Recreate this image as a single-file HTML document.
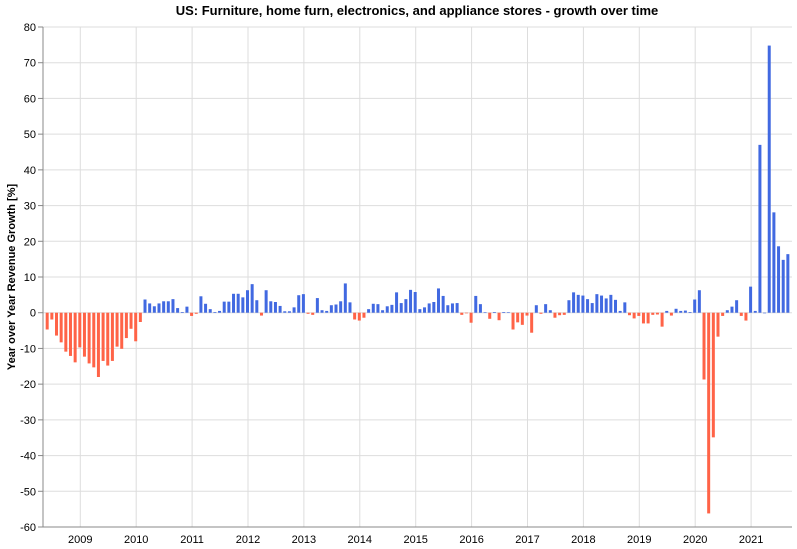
<!DOCTYPE html>
<html><head><meta charset="utf-8">
<style>
body{margin:0;background:#fff;}
svg{display:block;font-family:"Liberation Sans",sans-serif;}
</style></head>
<body>
<svg id="chart" width="797" height="549">
<text x="417" y="15" text-anchor="middle" font-size="13" font-weight="bold" fill="#000">US: Furniture, home furn, electronics, and appliance stores - growth over time</text>
<text transform="translate(15,277) rotate(-90)" text-anchor="middle" font-size="11" font-weight="bold" fill="#000">Year over Year Revenue Growth [%]</text>
<g id="grid"></g><g id="bars"></g><g id="axes"></g>
</svg>
<script>
const startYear = 2008, startMonth = 5; // June 2008
const v2008 = [-4.7,-1.9,-6.4,-8.3,-10.9,-12.1,-13.9];
const v2009 = [-9.7,-12.3,-14.2,-15.3,-18,-13.5,-14.8,-13.5,-9.5,-10.1,-7.1,-4.5];
const v2010 = [-8,-2.6,3.7,2.6,1.8,2.6,3.2,3.2,3.8,1.3,0.2,1.7];
const v2011 = [-0.9,-0.3,4.6,2.5,1.0,0.2,0.5,3.1,3.1,5.3,5.3,4.3];
const v2012 = [6.3,8.0,3.5,-0.8,6.3,3.2,3.0,1.9,0.4,0.4,1.5,4.9];
const v2013 = [5.2,-0.3,-0.6,4.1,0.7,0.5,2.1,2.3,3.2,8.2,2.9,-1.9];
const v2014 = [-2.2,-1.4,1.0,2.5,2.4,0.7,1.8,2.2,5.7,2.7,3.8,6.4];
const v2015 = [5.8,1.0,1.5,2.6,3.0,6.8,4.7,2.1,2.6,2.7,-0.6,-0.1];
const v2016 = [-2.8,4.7,2.4,0.1,-1.7,0.2,-2.1,0.2,0.1,-4.7,-2.7,-3.4];
const v2017 = [-0.8,-5.6,2.1,-0.3,2.4,0.7,-1.4,-0.7,-0.6,3.5,5.7,5.0];
const v2018 = [4.8,3.8,2.7,5.2,4.8,4.0,5.0,3.6,0.5,2.9,-0.7,-1.6];
const v2019 = [-0.9,-3.0,-3.0,-0.6,-0.5,-3.9,0.5,-0.8,1.1,0.5,0.6,0.2];
const v2020 = [3.7,6.3,-18.7,-56.2,-34.9,-6.7,-0.9,0.7,1.7,3.5,-0.9,-2.2];
const v2021 = [7.3,0.5,47.0,0.0,74.8,28.1,18.6,14.8,16.4];
const yTicks = [80,70,60,50,40,30,20,10,0,-10,-20,-30,-40,-50,-60];
const xTickYears = [2009,2010,2011,2012,2013,2014,2015,2016,2017,2018,2019,2020,2021];

const values = [].concat(v2008,v2009,v2010,v2011,v2012,v2013,v2014,v2015,v2016,v2017,v2018,v2019,v2020,v2021);
const L=43, R=792, T=27, B=527;
const yMax=80, yMin=-60;
const y = v => T + (yMax - v) / (yMax - yMin) * (B - T);
const monthW = 55.9/12;
const x = (yr, m) => 80.3 + ((yr - 2009) * 12 + m) * monthW;
const NS="http://www.w3.org/2000/svg";
function mk(tag, attrs, parent){const e=document.createElementNS(NS,tag);for(const k in attrs)e.setAttribute(k,attrs[k]);parent.appendChild(e);return e;}
const grid=document.getElementById('grid'), bars=document.getElementById('bars'), axes=document.getElementById('axes');

yTicks.forEach(t=>{
  const gl=mk('line',{x1:L,x2:R,y1:y(t),y2:y(t),stroke:'#ddd','stroke-width':1},grid);
  
  
  const tk=mk('line',{x1:L-5,x2:L,y1:y(t),y2:y(t),stroke:'#888','stroke-width':1},axes);
  
  
  const lb=mk('text',{x:L-7,y:y(t)+4,'text-anchor':'end','font-size':11,fill:'#000'},axes);
  lb.textContent=t;
  
  
});
xTickYears.forEach(yr=>{
  const gx=x(yr,0);
  const gl=mk('line',{x1:gx,x2:gx,y1:T,y2:B,stroke:'#ddd','stroke-width':1},grid);
  
  
  const lb=mk('text',{x:gx,y:543,'text-anchor':'middle','font-size':11,fill:'#000'},axes);
  lb.textContent=yr;
  
  
});
values.forEach((v,i)=>{
  const mIdx=startMonth+i, yr=startYear+Math.floor(mIdx/12), m=mIdx%12;
  const cx=x(yr,m)-0.5;
  const y0=y(0), yv=y(v);
  const r=mk('rect',{x:cx-1.5,y:Math.min(y0,yv),width:3,height:Math.max(Math.abs(yv-y0),0.6),fill:v>=0?'#4169e1':'#ff6347'},bars);
  
  
});
const ax=mk('line',{x1:L,x2:L,y1:T,y2:B,stroke:'#888','stroke-width':1},axes);


const bx=mk('line',{x1:L,x2:R,y1:B,y2:B,stroke:'#888','stroke-width':1},axes);


</script>
</body></html>
